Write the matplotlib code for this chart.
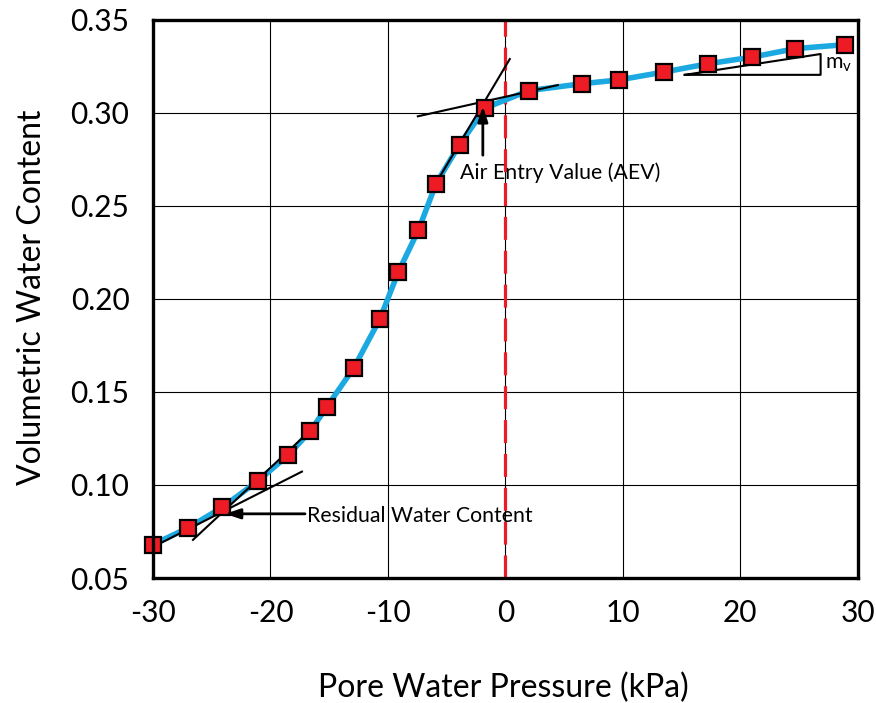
import matplotlib
matplotlib.use("Agg")
import matplotlib.pyplot as plt

plt.rcParams['font.family'] = ['Lato', 'DejaVu Sans']

# Data
pressure = [-30.0, -27.0, -24.1, -21.1, -18.5, -16.6, -15.2, -12.9, -10.7, -9.1,
            -7.4, -5.9, -3.9, -1.7, 2.0, 6.5, 9.7, 13.5, 17.3, 21.0, 24.7, 28.9]
theta = [0.068, 0.077, 0.088, 0.102, 0.116, 0.129, 0.142, 0.163, 0.189, 0.2147,
         0.237, 0.262, 0.283, 0.3027, 0.312, 0.3157, 0.3178, 0.322, 0.3265, 0.330,
         0.3346, 0.3367]

x_ticks = [-30, -20, -10, 0, 10, 20, 30]
y_ticks = [0.05, 0.10, 0.15, 0.20, 0.25, 0.30, 0.35]

# tangent construction lines (x pairs, y pairs)
aev_flat_x, aev_flat_y = [-7.45, 4.47], [0.2982, 0.315]
aev_steep_x, aev_steep_y = [-5.83, 0.38], [0.2631, 0.329]
res_flat_x, res_flat_y = [-30.0, -17.32], [0.0667, 0.1072]
res_steep_x, res_steep_y = [-26.6, -17.06], [0.0705, 0.1266]
mv_x = [15.28, 26.85, 26.85, 15.28]
mv_y = [0.3205, 0.3317, 0.3205, 0.3205]

fig = plt.figure(figsize=(8.76, 7.03), dpi=100)
ax = fig.add_axes([0.1747, 0.1778, 0.8043, 0.7938])

ax.set_xlim(-30, 30)
ax.set_ylim(0.05, 0.35)
ax.set_xticks(x_ticks)
ax.set_yticks(y_ticks)
ax.set_xticklabels([str(v) for v in x_ticks])
ax.set_yticklabels([f"{v:.2f}" for v in y_ticks])
ax.tick_params(length=0, labelsize=21.5, pad=15)
ax.tick_params(axis='y', pad=17)
ax.grid(True, color='black', linewidth=0.8, zorder=0)
ax.set_axisbelow(True)
for s in ax.spines.values():
    s.set_linewidth(2.4)
    s.set_color('black')
    s.set_zorder(10)

ax.axvline(0, color='#ED1C24', linewidth=2.3, dashes=(7.2, 3.4), zorder=2)

ax.plot(pressure, theta, color='#1CA9E1', linewidth=4.0, zorder=3, solid_capstyle='butt')

lw_t = 1.5
ax.plot(aev_flat_x, aev_flat_y, color='black', linewidth=lw_t, zorder=4)
ax.plot(aev_steep_x, aev_steep_y, color='black', linewidth=lw_t, zorder=4)
ax.plot(res_flat_x, res_flat_y, color='black', linewidth=lw_t, zorder=4)
ax.plot(res_steep_x, res_steep_y, color='black', linewidth=lw_t, zorder=4)
ax.plot(mv_x, mv_y, color='black', linewidth=lw_t, zorder=4)

ax.plot(pressure, theta, linestyle='none', marker='s', markersize=11,
        markerfacecolor='#ED1C24', markeredgecolor='black', markeredgewidth=1.6,
        zorder=6, clip_on=False)

ax.annotate('', xy=(-1.915, 0.3036), xytext=(-1.915, 0.2773),
            arrowprops=dict(arrowstyle='-|>,head_length=0.9,head_width=0.3',
                            color='black', lw=2.0, shrinkA=0, shrinkB=0), zorder=7)
ax.annotate('', xy=(-23.87, 0.0845), xytext=(-17.06, 0.0845),
            arrowprops=dict(arrowstyle='-|>,head_length=0.9,head_width=0.3',
                            color='black', lw=2.0, shrinkA=0, shrinkB=0), zorder=7)

ax.text(-3.87, 0.268, 'Air Entry Value (AEV)', fontsize=15.3, ha='left', va='center', zorder=8)
ax.text(-16.9, 0.0834, 'Residual Water Content', fontsize=15.3, ha='left', va='center', zorder=8)
ax.text(27.2, 0.3262, r'm$_\mathregular{v}$', fontsize=15.3, ha='left', va='center', zorder=8)

fig.text(0.575, 0.021, 'Pore Water Pressure (kPa)', fontsize=23, ha='center', va='center')
fig.text(0.037, 0.577, 'Volumetric Water Content', fontsize=23, ha='center', va='center',
         rotation=90)

fig.savefig('out.png', dpi=100)
